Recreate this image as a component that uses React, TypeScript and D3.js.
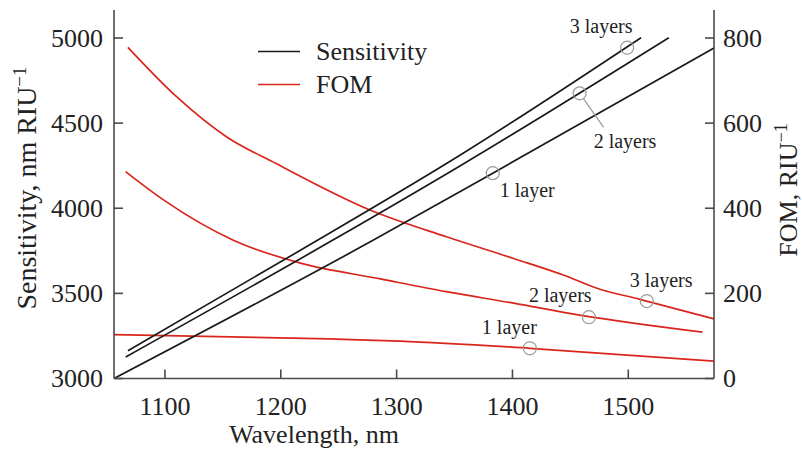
import React from 'react';
import * as d3 from 'd3';

// sensitivity (nm/RIU) vs wavelength
const sensWl1 = [1056, 1280, 1383, 1574];
const sens1 = [3000, 3813, 4206, 4941];
const sensWl2 = [1066, 1245, 1355, 1535];
const sens2 = [3126, 3813, 4250, 5002];
const sensWl3 = [1068, 1232, 1355, 1511];
const sens3 = [3163, 3813, 4313, 5002];

// FOM (1/RIU) vs wavelength
const fomWl1 = [1056, 1242, 1303, 1415, 1574];
const fom1 = [103, 93, 88, 71, 41];
const fomWl2 = [1066, 1099, 1159, 1217, 1286, 1343, 1401, 1458, 1564];
const fom2 = [486, 419, 325, 271, 234, 204, 177, 149, 109];
const fomWl3 = [1068, 1110, 1153, 1196, 1277, 1343, 1401, 1444, 1473, 1510, 1574];
const fom3 = [778, 662, 568, 505, 396, 333, 282, 243, 212, 186, 140];

// circled points
const sensMarkWl = [1383, 1458, 1499];
const sensMarkVal = [4206, 4675, 4943];
const fomMarkWl = [1415, 1466, 1516];
const fomMarkVal = [71, 144, 182];
const layerLabels = ['1 layer', '2 layers', '3 layers'];

const xTicks = [1100, 1200, 1300, 1400, 1500];
const sensTicks = [3000, 3500, 4000, 4500, 5000];
const fomTicks = [0, 200, 400, 600, 800];

const W = 802;
const H = 450;
const left = 114;
const right = 714;
const top = 10;
const bottom = 378.5;

const FONT = '"Liberation Serif", "Times New Roman", serif';
const RED = '#d9261c';
const INK = '#1a1a1a';
const AXIS = '#4a4a4a';
const MARK = '#9a9a9a';

// pixel offsets of the annotation text from each circled point
const sensLabelOff = [[7, 24], [14, 55], [-26, -15]];
const fomLabelOff = [[-48, -14], [-60, -15], [-17, -14]];

export default function App() {
  const x = d3.scaleLinear().domain([1056, 1574]).range([left, right]);
  const yS = d3.scaleLinear().domain([3000, 5000]).range([bottom, 38]);
  const yF = d3.scaleLinear().domain([0, 800]).range([bottom, 38]);

  const sensLine = d3
    .line<[number, number]>()
    .x(d => x(d[0]))
    .y(d => yS(d[1]))
    .curve(d3.curveMonotoneX);
  const fomLine = d3
    .line<[number, number]>()
    .x(d => x(d[0]))
    .y(d => yF(d[1]))
    .curve(d3.curveMonotoneX);

  const zip = (a: number[], b: number[]) => a.map((v, i) => [v, b[i]] as [number, number]);

  const sensSeries = [zip(sensWl1, sens1), zip(sensWl2, sens2), zip(sensWl3, sens3)];
  const fomSeries = [zip(fomWl1, fom1), zip(fomWl2, fom2), zip(fomWl3, fom3)];

  return (
    <svg
      width={W}
      height={H}
      style={{ position: 'absolute', left: 0, top: 0, display: 'block', background: '#fff' }}
      fontFamily={FONT}
    >
      <defs>
        <clipPath id="plot">
          <rect x={left} y={top} width={right - left} height={bottom - top} />
        </clipPath>
      </defs>

      <g clipPath="url(#plot)" fill="none" strokeWidth={1.7}>
        {fomSeries.map((s, i) => (
          <path key={'f' + i} d={fomLine(s) || ''} stroke={RED} />
        ))}
        {sensSeries.map((s, i) => (
          <path key={'s' + i} d={sensLine(s) || ''} stroke={INK} />
        ))}
      </g>

      {/* axes */}
      <g stroke={AXIS} strokeWidth={1.6} fill="none">
        <line x1={left} x2={left} y1={top} y2={bottom} />
        <line x1={right} x2={right} y1={top} y2={bottom} />
        <line x1={left} x2={right} y1={bottom} y2={bottom} />
        {sensTicks.map(t => (
          <line key={'ls' + t} x1={left} x2={left + 9} y1={yS(t)} y2={yS(t)} />
        ))}
        {fomTicks.map(t => (
          <line key={'rf' + t} x1={right - 9} x2={right} y1={yF(t)} y2={yF(t)} />
        ))}
        {xTicks.map(t => (
          <line key={'bx' + t} x1={x(t)} x2={x(t)} y1={bottom} y2={bottom - 9} />
        ))}
      </g>

      <g fontSize={26} fill="#222">
        {sensTicks.map(t => (
          <text key={'lt' + t} x={left - 11} y={yS(t)} dy="0.34em" textAnchor="end">
            {t}
          </text>
        ))}
        {fomTicks.map(t => (
          <text key={'rt' + t} x={right + 9} y={yF(t)} dy="0.34em" textAnchor="start">
            {t}
          </text>
        ))}
        {xTicks.map(t => (
          <text key={'xt' + t} x={x(t)} y={415} textAnchor="middle">
            {t}
          </text>
        ))}
        <text x={314} y={443} textAnchor="middle">
          Wavelength, nm
        </text>
        <text transform="translate(36,188) rotate(-90)" textAnchor="middle" fontSize={28}>
          Sensitivity, nm RIU
          <tspan dy={-10} fontSize={19}>
            −1
          </tspan>
        </text>
        <text transform="translate(797,190) rotate(-90)" textAnchor="middle">
          FOM, RIU
          <tspan dy={-10} fontSize={18}>
            −1
          </tspan>
        </text>
      </g>

      {/* legend */}
      <g>
        <line x1={258} x2={300} y1={51.5} y2={51.5} stroke={INK} strokeWidth={1.7} />
        <line x1={258} x2={300} y1={84.5} y2={84.5} stroke={RED} strokeWidth={1.7} />
        <text x={316} y={60} fontSize={26} fill="#222">
          Sensitivity
        </text>
        <text x={316} y={93} fontSize={26} fill="#222">
          FOM
        </text>
      </g>

      {/* circled points and labels */}
      <g fill="none" stroke={MARK} strokeWidth={1.2}>
        {sensMarkWl.map((w, i) => (
          <circle key={'sm' + i} cx={x(w)} cy={yS(sensMarkVal[i])} r={6.5} />
        ))}
        {fomMarkWl.map((w, i) => (
          <circle key={'fm' + i} cx={x(w)} cy={yF(fomMarkVal[i])} r={6.5} />
        ))}
        <line
          x1={x(sensMarkWl[1]) + 4}
          y1={yS(sensMarkVal[1]) + 5.5}
          x2={x(sensMarkWl[1]) + 24}
          y2={yS(sensMarkVal[1]) + 34}
        />
      </g>
      <g fontSize={20} fill="#222">
        {sensMarkWl.map((w, i) => (
          <text
            key={'sl' + i}
            x={x(w) + sensLabelOff[i][0]}
            y={yS(sensMarkVal[i]) + sensLabelOff[i][1]}
            textAnchor={i === 2 ? 'middle' : 'start'}
          >
            {layerLabels[i]}
          </text>
        ))}
        {fomMarkWl.map((w, i) => (
          <text key={'fl' + i} x={x(w) + fomLabelOff[i][0]} y={yF(fomMarkVal[i]) + fomLabelOff[i][1]}>
            {layerLabels[i]}
          </text>
        ))}
      </g>
    </svg>
  );
}
